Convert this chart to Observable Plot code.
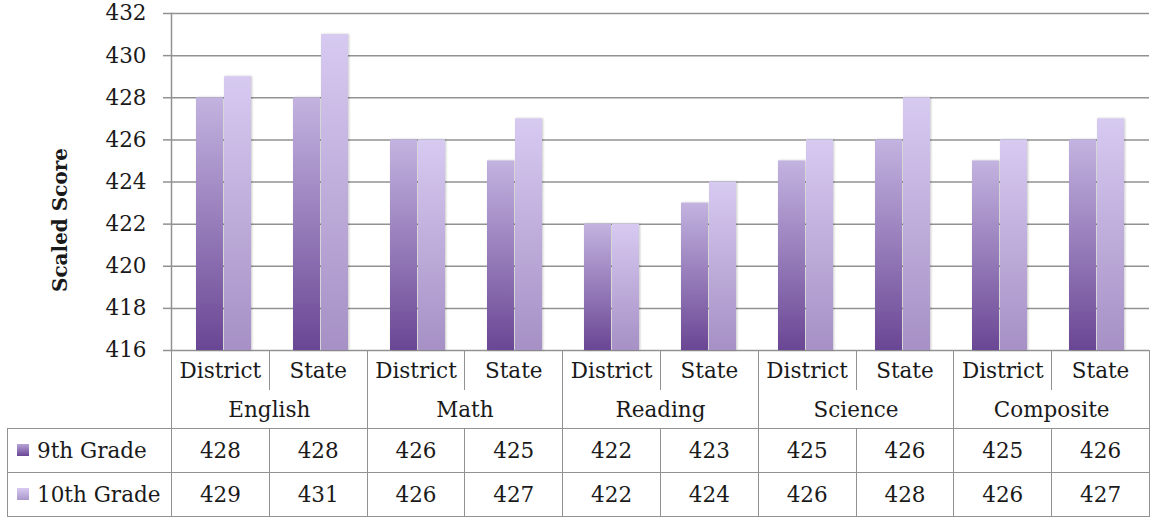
<!DOCTYPE html>
<html>
<head>
<meta charset="utf-8">
<script src="https://cdn.jsdelivr.net/npm/d3@7"></script>
<script src="https://cdn.jsdelivr.net/npm/@observablehq/plot@0.6"></script>
<style>
  body { margin: 0; background: #fff; font-family: "DejaVu Serif", serif; }
  #wrap { position: relative; width: 1152px; height: 522px; overflow: hidden; }
  #chart { position: absolute; left: 0; top: 0; }
  #tbl { position: absolute; left: 7px; top: 350px; border-collapse: collapse; table-layout: fixed;
         font-size: 21.5px; color: #1a1a1a; width: 1142px; }
  #tbl td { padding: 0; text-align: center; vertical-align: middle; white-space: nowrap; overflow: hidden; }
  #tbl tr.h1 td { height: 40px; }
  #tbl tr.h2 td { height: 38px; }
  #tbl tr.d td { height: 43px; border: 1.5px solid #929292; }
  #tbl tr.h1 td, #tbl tr.h2 td { border-right: 1.5px solid #929292; }
  #tbl tr.d td.leg { text-align: left; padding-left: 9px; }
  .sw { display: inline-block; width: 12px; height: 12px; margin-right: 8px; vertical-align: 2px; }
</style>
</head>
<body>
<div id="wrap">
  <div id="chart"></div>
  <table id="tbl"></table>
</div>
<script>
// ---- data ----
const subjects = ["English", "Math", "Reading", "Science", "Composite"];
const levels = ["District", "State"];
const grades = ["9th Grade", "10th Grade"];
const grade9 = [428, 428, 426, 425, 422, 423, 425, 426, 425, 426];
const grade10 = [429, 431, 426, 427, 422, 424, 426, 428, 426, 427];
const yTicks = [416, 418, 420, 422, 424, 426, 428, 430, 432];
const axisTitle = "Scaled Score";

// ---- build rows ----
const cells = subjects.flatMap(s => levels.map(l => `${s} ${l}`));
const rows9 = cells.map((c, i) => ({cell: c, value: grade9[i]}));
const rows10 = cells.map((c, i) => ({cell: c, value: grade10[i]}));
const base = yTicks[0];

const grid = "#929292";

const chart = Plot.plot({
  width: 1152,
  height: 351,
  marginTop: 13,
  marginBottom: 1,
  marginLeft: 171,
  marginRight: 3,
  style: {fontFamily: "DejaVu Serif", fontSize: "21.5px", color: "#1a1a1a", background: "white", overflow: "visible"},
  x: {domain: cells, padding: 0, axis: null},
  y: {domain: [yTicks[0], yTicks[yTicks.length - 1]], axis: null},
  marks: [
    Plot.gridY(yTicks, {stroke: grid, strokeOpacity: 1, strokeWidth: 1.5}),
    Plot.barY(rows9, {x: "cell", y1: base, y2: "value", fill: "url(#g9)", insetLeft: 21, insetRight: 49}),
    Plot.barY(rows10, {x: "cell", y1: base, y2: "value", fill: "url(#g10)", insetLeft: 49, insetRight: 21}),
    Plot.axisY(yTicks, {tickSize: 8, tickPadding: 17, stroke: grid, strokeWidth: 1.5, tickFormat: d => String(d), label: null, fill: "#1a1a1a"}),
    Plot.frame({anchor: "left", stroke: grid, strokeWidth: 1.5}),
    Plot.text([axisTitle], {frameAnchor: "left", textAnchor: "middle", dx: -111, dy: 38, rotate: -90, fontWeight: "bold", fontSize: 20, fill: "#1a1a1a"})
  ]
});

// gradients + shadow
const svg = d3.select(chart);
const defs = svg.insert("defs", ":first-child");
function grad(id, bottom, top) {
  const g = defs.append("linearGradient").attr("id", id).attr("x1", 0).attr("y1", 1).attr("x2", 0).attr("y2", 0);
  g.append("stop").attr("offset", "0%").attr("stop-color", bottom);
  g.append("stop").attr("offset", "100%").attr("stop-color", top);
}
grad("g9", "#6a4694", "#c3b3e0");
grad("g10", "#a690c5", "#d7caf1");
const f = defs.append("filter").attr("id", "sh").attr("x", "-20%").attr("y", "-5%").attr("width", "140%").attr("height", "110%");
f.append("feDropShadow").attr("dx", 1).attr("dy", 0).attr("stdDeviation", 1.2).attr("flood-color", "#000").attr("flood-opacity", 0.22);
svg.selectAll("rect").filter(function() { const f = this.getAttribute("fill") || (this.parentNode && this.parentNode.getAttribute("fill")); return f && f.startsWith("url"); })
  .attr("filter", "url(#sh)");

document.getElementById("chart").appendChild(chart);

// ---- table below the axis ----
const tbl = d3.select("#tbl");
const cg = tbl.append("colgroup");
cg.append("col").style("width", "164px");
cells.forEach(() => cg.append("col").style("width", "97.8px"));

const r1 = tbl.append("tr").attr("class", "h1");
r1.append("td");
cells.forEach((c, i) => r1.append("td").text(levels[i % levels.length]));

const r2 = tbl.append("tr").attr("class", "h2");
r2.append("td");
subjects.forEach(s => r2.append("td").attr("colspan", levels.length).text(s));

const swatch = {
  "9th Grade": "linear-gradient(to top, #6a4694, #b8a4d8)",
  "10th Grade": "linear-gradient(to top, #ab96cb, #d7caf1)"
};
[[grades[0], grade9], [grades[1], grade10]].forEach(([g, vals]) => {
  const r = tbl.append("tr").attr("class", "d");
  const lg = r.append("td").attr("class", "leg");
  lg.append("span").attr("class", "sw").style("background", swatch[g]);
  lg.append("span").text(g);
  vals.forEach(v => r.append("td").text(v));
});
</script>
</body>
</html>
